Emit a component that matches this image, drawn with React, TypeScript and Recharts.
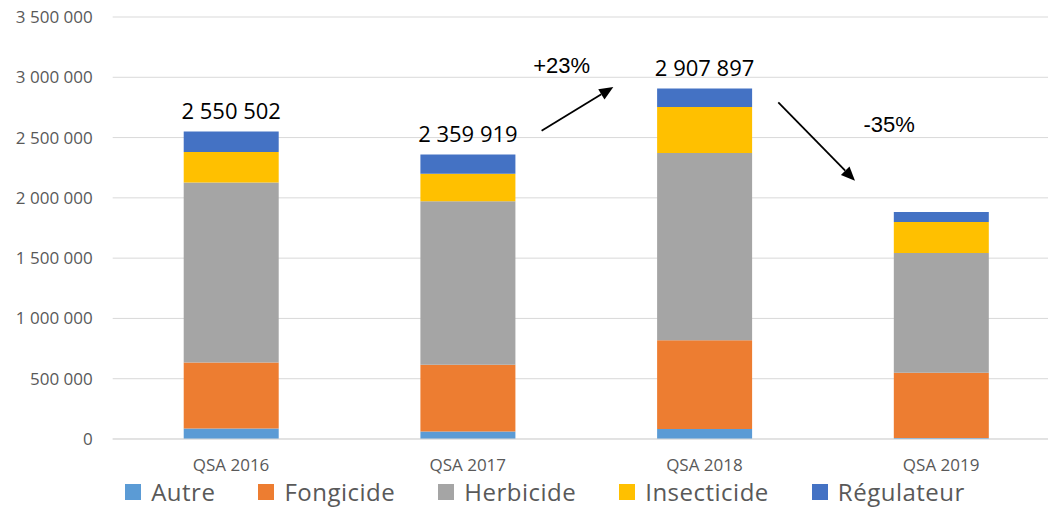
import React from 'react';
import {
  BarChart, Bar, XAxis, YAxis, CartesianGrid, Legend, LabelList,
  ReferenceLine, ReferenceDot,
} from 'recharts';

const categories = ['QSA 2016', 'QSA 2017', 'QSA 2018', 'QSA 2019'];
const autre = [88000, 63000, 83000, 8000];
const fongicide = [547000, 553000, 735000, 542000];
const herbicide = [1493000, 1355000, 1554000, 993000];
const insecticide = [252000, 229000, 382000, 257000];
const regulateur = [170500, 160000, 154000, 83000];
const totalLabels = ['2 550 502', '2 359 919', '2 907 897', ''];
const yTicks = [0, 500000, 1000000, 1500000, 2000000, 2500000, 3000000, 3500000];
// position of each category centre on a hidden numeric axis running 0..4
const categoryPos = [0.5, 1.5, 2.5, 3.5];

const seriesNames = ['Autre', 'Fongicide', 'Herbicide', 'Insecticide', 'Régulateur'];
const seriesKeys = ['autre', 'fongicide', 'herbicide', 'insecticide', 'regulateur'];
const seriesColors = ['#5B9BD5', '#ED7D31', '#A5A5A5', '#FFC000', '#4472C4'];

// annotation arrows (on the hidden numeric axis, and data values)
const arrows = [
  { x1: 1.812, y1: 2557000, x2: 2.115, y2: 2919000 },
  { x1: 2.812, y1: 2792000, x2: 3.136, y2: 2142000 },
];
const arrowTexts = [
  { text: '+23%', x: 1.897, y: 3036000 },
  { text: '-35%', x: 3.280, y: 2543000 },
];

const data = categories.map((c, i) => ({
  name: c,
  pos: categoryPos[i],
  autre: autre[i],
  fongicide: fongicide[i],
  herbicide: herbicide[i],
  insecticide: insecticide[i],
  regulateur: regulateur[i],
  total: totalLabels[i],
}));

const fmt = (v: number) => String(v).replace(/\B(?=(\d{3})+(?!\d))/g, ' ');
const FONT = '"Open Sans", "DejaVu Sans", sans-serif';

const W = 1090;
const H = 508;

const ArrowShape = (p: any) => {
  const { x1, y1, x2, y2 } = p;
  const dx = x2 - x1;
  const dy = y2 - y1;
  const len = Math.sqrt(dx * dx + dy * dy) || 1;
  const ux = dx / len;
  const uy = dy / len;
  const hl = 14;
  const hw = 6;
  const bx = x2 - ux * hl;
  const by = y2 - uy * hl;
  const pts = `${x2},${y2} ${bx - uy * hw},${by + ux * hw} ${bx + uy * hw},${by - ux * hw}`;
  return (
    <g>
      <line x1={x1} y1={y1} x2={bx} y2={by} stroke="#000" strokeWidth={1.8} />
      <polygon points={pts} fill="#000" />
    </g>
  );
};

const makeTextShape = (text: string) => (p: any) => (
  <text x={p.cx} y={p.cy} textAnchor="middle" fontFamily='"Liberation Sans", Arial, sans-serif' fontSize={22} fill="#000">
    {text}
  </text>
);

const XTick = (p: any) => {
  const { x, y, payload } = p;
  return (
    <text x={x} y={y + 29.5} textAnchor="middle" fontFamily={FONT} fontSize={17} fill="#595959">
      {payload.value}
    </text>
  );
};

const LegendContent = () => (
  <div style={{ width: W, height: 38, display: 'flex', justifyContent: 'center', alignItems: 'center', paddingTop: 5, boxSizing: 'border-box', fontFamily: FONT }}>
    {seriesNames.map((n, i) => (
      <div key={n} style={{ display: 'flex', alignItems: 'center', marginRight: i < seriesNames.length - 1 ? 43 : 0 }}>
        <div style={{ width: 16, height: 16, background: seriesColors[i], marginRight: 10 }} />
        <span style={{ fontSize: 24, letterSpacing: 0.5, color: '#595959', lineHeight: '30px' }}>{n}</span>
      </div>
    ))}
  </div>
);

const TotalLabel = (p: any) => {
  const { x, y, width, index } = p;
  const t = totalLabels[index];
  if (!t) return null;
  return (
    <text x={x + width / 2} y={y - 12} textAnchor="middle" fontFamily={FONT} fontSize={22} fill="#000">
      {t}
    </text>
  );
};

export default function App() {
  return (
    <div style={{ position: 'absolute', left: 0, top: 0, width: 1048, height: 508, overflow: 'hidden', background: '#fff' }}>
      <BarChart
        width={W}
        height={H}
        data={data}
        margin={{ top: 17, right: 30.5, left: 0, bottom: 0 }}
        barCategoryGap="30%"
      >
        <CartesianGrid vertical={false} stroke="#d9d9d9" strokeWidth={1} />
        <XAxis
          dataKey="name"
          height={31}
          tickLine={false}
          tickSize={0}
          axisLine={{ stroke: '#d9d9d9' }}
          tick={<XTick />}
          interval={0}
        />
        <XAxis xAxisId="num" dataKey="pos" type="number" domain={[0, 4]} hide allowDataOverflow />
        <YAxis
          width={112.7}
          domain={[0, 3500000]}
          ticks={yTicks}
          tickFormatter={fmt}
          tickLine={false}
          tickSize={0}
          tickMargin={20}
          axisLine={false}
          interval={0}
          tick={{ fontFamily: FONT, fontSize: 17, fill: '#595959' }}
        />
        {seriesKeys.map((k, i) => (
          <Bar key={k} dataKey={k} name={seriesNames[i]} stackId="a" fill={seriesColors[i]} isAnimationActive={false}>
            {k === 'regulateur' ? <LabelList dataKey="total" content={<TotalLabel />} /> : null}
          </Bar>
        ))}
        {arrows.map((a, i) => (
          <ReferenceLine
            key={'a' + i}
            xAxisId="num"
            segment={[{ x: a.x1, y: a.y1 }, { x: a.x2, y: a.y2 }]}
            ifOverflow="visible"
            shape={ArrowShape}
          />
        ))}
        {arrowTexts.map((t, i) => (
          <ReferenceDot
            key={'t' + i}
            xAxisId="num"
            x={t.x}
            y={t.y}
            r={0}
            ifOverflow="visible"
            shape={makeTextShape(t.text)}
          />
        ))}
        <Legend
          verticalAlign="bottom"
          content={<LegendContent />}
          wrapperStyle={{ left: 0, width: W, height: 38 }}
        />
      </BarChart>
    </div>
  );
}
